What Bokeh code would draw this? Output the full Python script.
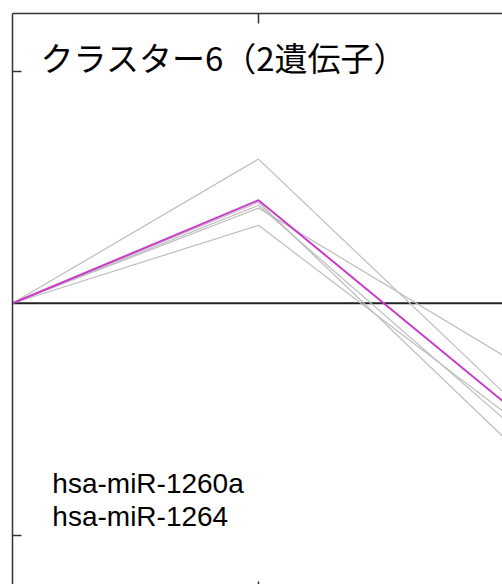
from bokeh.plotting import figure
from bokeh.models import LinearAxis, FixedTicker, Span, Range1d
from bokeh.core.properties import value
from bokeh.embed import file_html
from bokeh.resources import INLINE

# ---- data ----
samples = [0, 1, 2]
gray_series = [
    [0.0, 0.621, -0.388],
    [0.0, 0.435, -0.580],
    [0.0, 0.422, -0.500],
    [0.0, 0.410, -0.228],
    [0.0, 0.336, -0.470],
]
mean_series = [0.0, 0.444, -0.427]
title_text = "クラスター6（2遺伝子）"
gene_names = ["hsa-miR-1260a", "hsa-miR-1264"]
gene_y = [-0.776, -0.918]
gene_x = [0.162, 0.162]

W, H = 502, 584
p = figure(width=W, height=H, output_backend="svg", toolbar_location=None,
           x_axis_location=None, y_axis_location=None,
           x_range=Range1d(0, 1.992), y_range=Range1d(-1.211, 1.248),
           min_border_left=12, min_border_top=13, min_border_right=0, min_border_bottom=0)
p.outline_line_color = None
p.xgrid.visible = False
p.ygrid.visible = False
p.background_fill_color = "white"
p.border_fill_color = "white"

def make_axis(ticks, tick_in):
    ax = LinearAxis(ticker=FixedTicker(ticks=ticks))
    ax.major_tick_in = tick_in
    ax.major_tick_out = 0
    ax.minor_tick_in = 0
    ax.minor_tick_out = 0
    ax.major_label_overrides = {t: "" for t in ticks}
    ax.major_label_standoff = 0
    ax.axis_line_color = "#333333"
    ax.axis_line_width = 1.5
    ax.major_tick_line_color = "#333333"
    ax.major_tick_line_width = 1.5
    return ax

p.add_layout(make_axis([1], 10), "above")
p.add_layout(make_axis([-1, 1], 9), "left")
bottom = make_axis([1], 3)
bottom.axis_line_color = None
p.add_layout(bottom, "below")

zero = Span(location=0, dimension="width", line_color="#222222", line_width=2, level="underlay")
p.add_layout(zero)

for s in gray_series:
    p.line(samples, s, line_color="#bdbdbd", line_width=1.2)
p.line(samples, mean_series, line_color="#c83cc8", line_width=2)

p.text(x=[0.114], y=[1.06], text=[title_text], text_font=value("Noto Sans CJK JP"),
       text_font_size="33px", text_baseline="middle", text_align="left", text_color="black")
p.text(x=gene_x, y=gene_y, text=gene_names, text_font=value("Liberation Sans"),
       text_font_size="28px", text_baseline="alphabetic", text_align="left", text_color="black")

open("out.html", "w").write(file_html(p, INLINE))
